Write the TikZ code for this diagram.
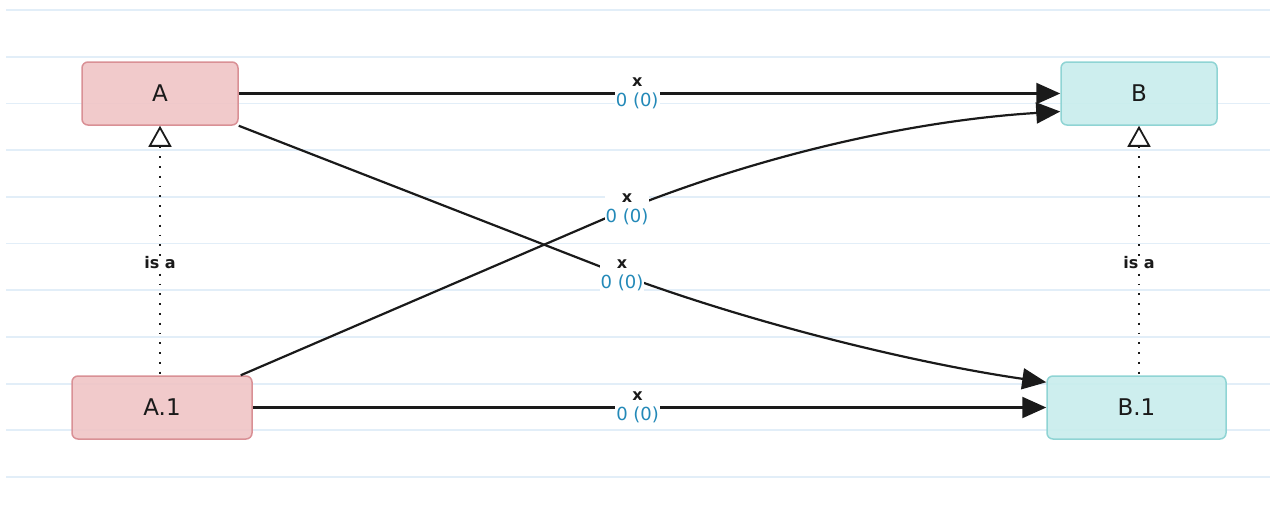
\documentclass[tikz,border=0pt]{standalone}
\usepackage{fontspec}
\setmainfont{DejaVu Sans}
\usetikzlibrary{arrows.meta}
\definecolor{gridc}{HTML}{E2EEF8}
\definecolor{pinkf}{HTML}{F0C5C7}
\definecolor{pinkd}{HTML}{D99095}
\definecolor{cyanf}{HTML}{C9EDED}
\definecolor{cyand}{HTML}{8FD4D4}
\definecolor{lblue}{HTML}{2389B8}
\definecolor{ink}{HTML}{1A1A1A}
\tikzset{
  box/.style={draw, line width=1.5pt, rounded corners=6pt, minimum height=63pt,
    font=\fontsize{23}{26}\selectfont, text=ink},
  pinkbox/.style={box, fill=pinkf, draw=pinkd, fill opacity=0.92, text opacity=1},
  cyanbox/.style={box, fill=cyanf, draw=cyand, fill opacity=0.92, text opacity=1},
  rel/.style={line width=2.2pt, draw=ink, -{Triangle[length=24pt, width=21pt]}},
  isa/.style={line width=2pt, draw=ink, dash pattern=on 1.8pt off 8pt,
    {Triangle[open, length=21pt, width=23pt, line width=1.8pt, sep=0pt]}-},
  lbl/.style={fill=white, inner sep=1pt, align=center,
    font=\fontsize{16}{20}\selectfont\bfseries, text=ink},
  gridline/.style={draw=gridc, line width=1.8pt}
}
\newcommand{\cnt}{\textcolor{lblue}{\mdseries\fontsize{18}{20}\selectfont 0 (0)}}
\begin{document}
\begin{tikzpicture}[x=1pt,y=-1pt]
\useasboundingbox (0,0) rectangle (1277,515);
\foreach \yy in {10,56.7,103.4,150.1,196.8,243.5,290.2,336.9,383.6,430.3,477} {
  \draw[gridline] (6,\yy) -- (1270,\yy);
}
\node[pinkbox, minimum width=156pt] (a) at (160,93.5) {A};
\node[cyanbox, minimum width=156pt] (b) at (1139,93.5) {B};
\node[pinkbox, minimum width=180pt] (a1) at (162,407.5) {A.1};
\node[cyanbox, minimum width=179pt] (b1) at (1136.5,407.5) {B.1};

\coordinate (a1s) at ([xshift=-12pt]a1.north east);
\coordinate (bend) at ([yshift=-18pt]b.west);
\coordinate (bend2) at ([yshift=-7pt]b1.north west);
\coordinate (m1) at (627,209);
\coordinate (m2) at (622,275);

\draw[rel] (a.east) -- node[lbl, pos=0.485] {x\\\cnt} (b.west);
\draw[rel] (a1.east) -- node[lbl, pos=0.485] {x\\\cnt} (b1.west);
\draw[rel] (a1s) -- (m1) node[lbl] {x\\\cnt} .. controls (770,152) and (920,120) .. (bend);
\draw[rel] (a.south east) -- (m2) node[lbl] {x\\\cnt} .. controls (760,326) and (920,364) .. (bend2);

\draw[isa] (a.south) -- node[lbl, pos=0.55, font=\fontsize{16}{18}\selectfont\bfseries] {is a} (a1.north -| a.south);
\draw[isa] (b.south) -- node[lbl, pos=0.55, font=\fontsize{16}{18}\selectfont\bfseries] {is a} (b1.north -| b.south);
\end{tikzpicture}
\end{document}
